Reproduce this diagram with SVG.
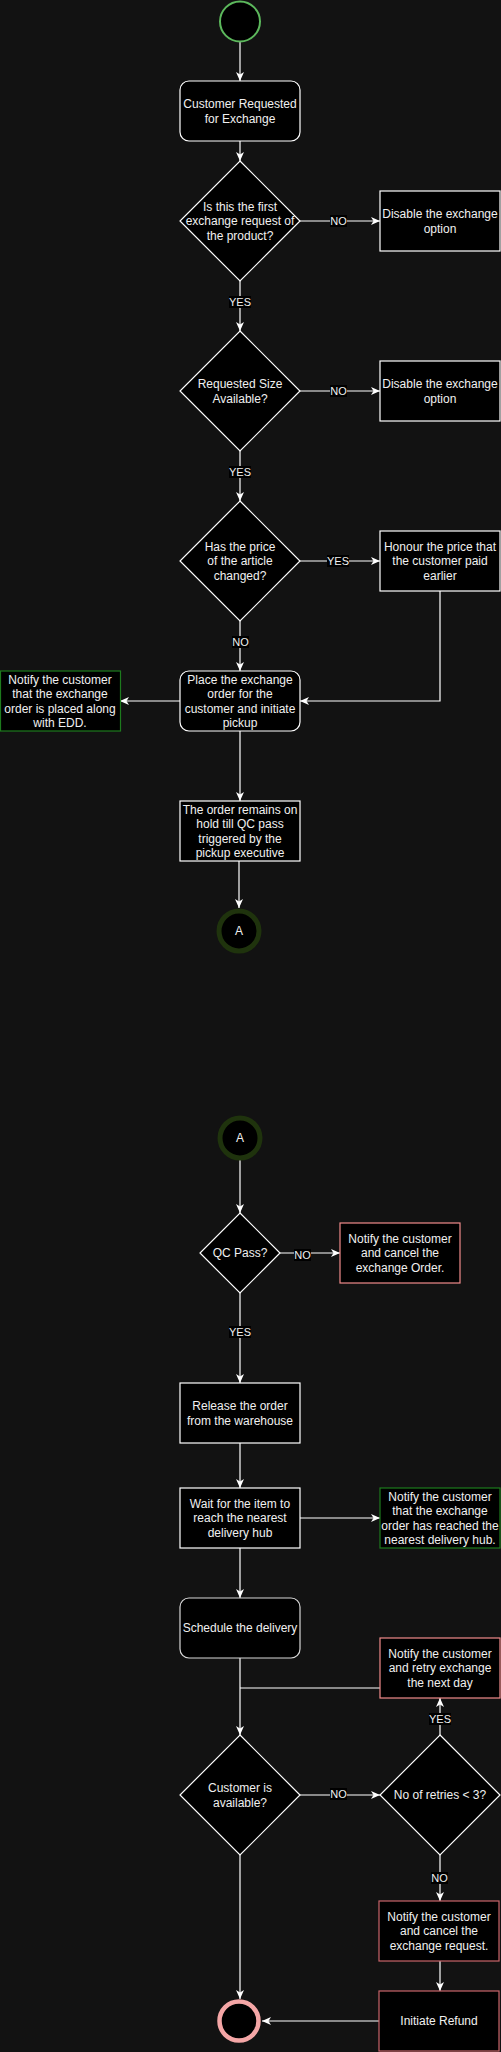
<svg xmlns="http://www.w3.org/2000/svg" width="501" height="2052" viewBox="0 0 501 2052">
<style>
.n{fill:#000;stroke:#fff;stroke-width:1.2}
.g{fill:#000;stroke:#1d7a1d;stroke-width:1.2}
.r{fill:#000;stroke:#f08a8a;stroke-width:1.2}
.r2{fill:#000;stroke:#c8646a;stroke-width:1.2}
.t{font-family:"Liberation Sans",Arial,sans-serif;font-size:12px;fill:#f0f0f0;text-anchor:middle}
.e{fill:none;stroke:#fff;stroke-width:1.2}
.lb{fill:#000}
.lt{font-family:"Liberation Sans",Arial,sans-serif;font-size:11px;fill:#f0f0f0;text-anchor:middle}
</style>
<defs>
<marker id="ar" markerUnits="userSpaceOnUse" markerWidth="9" markerHeight="8" viewBox="0 0 9 8" refX="9" refY="4" orient="auto">
<path d="M0,0 L9,4 L0,8 L2.5,4 z" fill="#fff"/>
</marker>
</defs>
<rect width="501" height="2052" fill="#121212"/>
<g id="connectors">
<path class="e" d="M240,42 V81" marker-end="url(#ar)"/>
<path class="e" d="M240,141 V161" marker-end="url(#ar)"/>
<path class="e" d="M300,221 H380" marker-end="url(#ar)"/>
<path class="e" d="M240,281 V331" marker-end="url(#ar)"/>
<path class="e" d="M300,391 H380" marker-end="url(#ar)"/>
<path class="e" d="M240,451 V501" marker-end="url(#ar)"/>
<path class="e" d="M300,561 H380" marker-end="url(#ar)"/>
<path class="e" d="M240,621 V671" marker-end="url(#ar)"/>
<path class="e" d="M440,591 V701 H300" marker-end="url(#ar)"/>
<path class="e" d="M180,701 H120" marker-end="url(#ar)"/>
<path class="e" d="M240,731 V801" marker-end="url(#ar)"/>
<path class="e" d="M239,861 V908" marker-end="url(#ar)"/>
<path class="e" d="M240,1160 V1213" marker-end="url(#ar)"/>
<path class="e" d="M280,1253 H340" marker-end="url(#ar)"/>
<path class="e" d="M240,1293 V1383" marker-end="url(#ar)"/>
<path class="e" d="M240,1443 V1488" marker-end="url(#ar)"/>
<path class="e" d="M300,1518 H380" marker-end="url(#ar)"/>
<path class="e" d="M240,1548 V1598" marker-end="url(#ar)"/>
<path class="e" d="M240,1658 V1735" marker-end="url(#ar)"/>
<path class="e" d="M380,1688 H240"/>
<path class="e" d="M300,1795 H380" marker-end="url(#ar)"/>
<path class="e" d="M440,1735 V1698" marker-end="url(#ar)"/>
<path class="e" d="M440,1855 V1901" marker-end="url(#ar)"/>
<path class="e" d="M440,1961 V1991" marker-end="url(#ar)"/>
<path class="e" d="M379,2021 H262" marker-end="url(#ar)"/>
<path class="e" d="M240,1855 V1999" marker-end="url(#ar)"/>
<g id="labels">
<rect class="lb" x="330" y="215" width="17" height="12"/><text class="lt" x="338.5" y="225">NO</text>
<rect class="lb" x="229" y="296" width="22" height="12"/><text class="lt" x="240" y="306">YES</text>
<rect class="lb" x="330" y="385" width="17" height="12"/><text class="lt" x="338.5" y="395">NO</text>
<rect class="lb" x="229" y="466" width="22" height="12"/><text class="lt" x="240" y="476">YES</text>
<rect class="lb" x="327" y="555" width="22" height="12"/><text class="lt" x="338" y="565">YES</text>
<rect class="lb" x="232" y="636" width="17" height="12"/><text class="lt" x="240.5" y="646">NO</text>
<rect class="lb" x="294" y="1249" width="17" height="12"/><text class="lt" x="302.5" y="1259">NO</text>
<rect class="lb" x="229" y="1326" width="22" height="12"/><text class="lt" x="240" y="1336">YES</text>
<rect class="lb" x="429" y="1713" width="22" height="12"/><text class="lt" x="440" y="1723">YES</text>
<rect class="lb" x="330" y="1788" width="17" height="12"/><text class="lt" x="338.5" y="1798">NO</text>
<rect class="lb" x="431" y="1872" width="17" height="12"/><text class="lt" x="439.5" y="1882">NO</text>
</g>
</g>
<g id="start"><circle cx="240" cy="21.5" r="20" fill="#000" stroke="#5cb85c" stroke-width="2"/></g>
<g id="n1"><rect class="n" x="180" y="81" width="120" height="60" rx="9"/><text class="t" x="240" y="108">Customer Requested</text><text class="t" x="240" y="122.5">for Exchange</text></g>
<g id="d1"><polygon class="n" points="240,161 300,221 240,281 180,221"/><text class="t" x="240" y="210.7">Is this the first</text><text class="t" x="240" y="225.2">exchange request of</text><text class="t" x="240" y="239.7">the product?</text></g>
<g id="dis1"><rect class="n" x="380" y="191" width="120" height="60"/><text class="t" x="440" y="218">Disable the exchange</text><text class="t" x="440" y="232.5">option</text></g>
<g id="d2"><polygon class="n" points="240,331 300,391 240,451 180,391"/><text class="t" x="240" y="388">Requested Size</text><text class="t" x="240" y="402.5">Available?</text></g>
<g id="dis2"><rect class="n" x="380" y="361" width="120" height="60"/><text class="t" x="440" y="388">Disable the exchange</text><text class="t" x="440" y="402.5">option</text></g>
<g id="d3"><polygon class="n" points="240,501 300,561 240,621 180,561"/><text class="t" x="240" y="550.7">Has the price</text><text class="t" x="240" y="565.2">of the article</text><text class="t" x="240" y="579.7">changed?</text></g>
<g id="honour"><rect class="n" x="380" y="531" width="120" height="60"/><text class="t" x="440" y="550.7">Honour the price that</text><text class="t" x="440" y="565.2">the customer paid</text><text class="t" x="440" y="579.7">earlier</text></g>
<g id="place"><rect class="n" x="180" y="671" width="120" height="60" rx="9"/><text class="t" x="240" y="683.5">Place the exchange</text><text class="t" x="240" y="698">order for the</text><text class="t" x="240" y="712.5">customer and initiate</text><text class="t" x="240" y="727">pickup</text></g>
<g id="notify1"><rect class="g" x="0.5" y="671" width="120" height="60"/><text class="t" x="60" y="683.5">Notify the customer</text><text class="t" x="60" y="698">that the exchange</text><text class="t" x="60" y="712.5">order is placed along</text><text class="t" x="60" y="727">with EDD.</text></g>
<g id="hold"><rect class="n" x="180" y="801" width="120" height="60"/><text class="t" x="240" y="813.5">The order remains on</text><text class="t" x="240" y="828">hold till QC pass</text><text class="t" x="240" y="842.5">triggered by the</text><text class="t" x="240" y="857">pickup executive</text></g>
<g id="a1"><circle cx="239" cy="931" r="20" fill="#000" stroke="#1f330d" stroke-width="5"/><text class="t" x="239" y="935.2">A</text></g>
<g id="a2"><circle cx="240" cy="1138" r="20" fill="#000" stroke="#1f330d" stroke-width="5"/><text class="t" x="240" y="1142.2">A</text></g>
<g id="qc"><polygon class="n" points="240,1213 280,1253 240,1293 200,1253"/><text class="t" x="240" y="1257.2">QC Pass?</text></g>
<g id="cancel1"><rect class="r" x="340" y="1223" width="120" height="60"/><text class="t" x="400" y="1242.7">Notify the customer</text><text class="t" x="400" y="1257.2">and cancel the</text><text class="t" x="400" y="1271.7">exchange Order.</text></g>
<g id="release"><rect class="n" x="180" y="1383" width="120" height="60"/><text class="t" x="240" y="1410">Release the order</text><text class="t" x="240" y="1424.5">from the warehouse</text></g>
<g id="wait"><rect class="n" x="180" y="1488" width="120" height="60"/><text class="t" x="240" y="1507.7">Wait for the item to</text><text class="t" x="240" y="1522.2">reach the nearest</text><text class="t" x="240" y="1536.7">delivery hub</text></g>
<g id="notify2"><rect class="g" x="380" y="1488" width="120" height="60"/><text class="t" x="440" y="1500.5">Notify the customer</text><text class="t" x="440" y="1515">that the exchange</text><text class="t" x="440" y="1529.5">order has reached the</text><text class="t" x="440" y="1544">nearest delivery hub.</text></g>
<g id="schedule"><rect class="n" x="180" y="1598" width="120" height="60" rx="9" style="stroke:#d8d8d8"/><text class="t" x="240" y="1632.2">Schedule the delivery</text></g>
<g id="retry"><rect class="r" x="380" y="1638" width="120" height="60"/><text class="t" x="440" y="1657.7">Notify the customer</text><text class="t" x="440" y="1672.2">and retry exchange</text><text class="t" x="440" y="1686.7">the next day</text></g>
<g id="avail"><polygon class="n" points="240,1735 300,1795 240,1855 180,1795"/><text class="t" x="240" y="1792">Customer is</text><text class="t" x="240" y="1806.5">available?</text></g>
<g id="retries"><polygon class="n" points="440,1735 500,1795 440,1855 380,1795"/><text class="t" x="440" y="1799.2">No of retries &lt; 3?</text></g>
<g id="cancel2"><rect class="r2" x="379" y="1901" width="120" height="60"/><text class="t" x="439" y="1920.7">Notify the customer</text><text class="t" x="439" y="1935.2">and cancel the</text><text class="t" x="439" y="1949.7">exchange request.</text></g>
<g id="refund"><rect class="r2" x="379" y="1991" width="120" height="60"/><text class="t" x="439" y="2025.2">Initiate Refund</text></g>
<g id="end"><circle cx="239" cy="2021" r="19.5" fill="#000" stroke="#f4a6a6" stroke-width="4.5"/></g>
</svg>
